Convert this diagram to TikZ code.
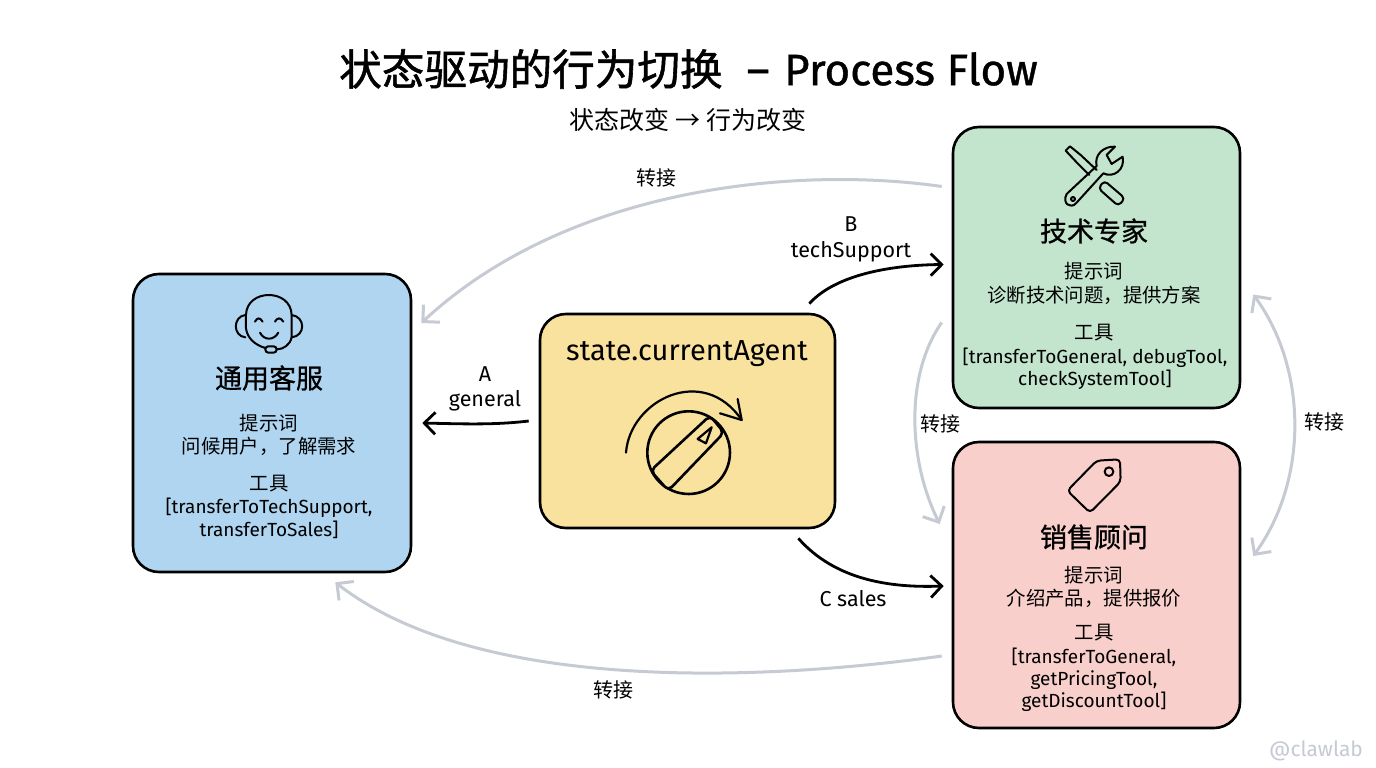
\documentclass[tikz,border=0pt]{standalone}
\usepackage{fontspec}
\setmainfont{Fira Sans}
\newfontfamily\cjk{Noto Sans CJK SC}
\newfontfamily\cjkb[FakeBold=0.9]{Noto Sans CJK SC}
\newfontfamily\cjkt[FakeBold=1.3]{Noto Sans CJK SC}
\newfontfamily\latt[FakeBold=0.9]{Fira Sans}
\usetikzlibrary{arrows.meta}
\definecolor{cblue}{HTML}{AFD5F0}
\definecolor{cyellow}{HTML}{F9E29E}
\definecolor{cgreen}{HTML}{C3E5CE}
\definecolor{cred}{HTML}{F9CFCB}
\definecolor{cgray}{HTML}{C6CAD2}
\newcommand{\fs}[1]{\fontsize{#1}{#1}\selectfont}
\tikzset{
  x=1pt,y=-1pt,
  card/.style={draw=black,line width=2.6pt,rounded corners=26pt,inner sep=0pt},
  head/.style={font=\cjkb\fs{27},inner sep=0pt},
  cn/.style={font=\cjk\fs{19.4},inner sep=0pt},
  en/.style={font=\fs{19},inner sep=0pt},
  lbl/.style={font=\fs{21.5},inner sep=0pt},
  cnl/.style={font=\cjk\fs{20},inner sep=0pt},
  blackarrow/.style={draw=black,line width=2.8pt,-{Straight Barb[length=11pt,width=22pt,line width=2.8pt]}},
  grayarrow/.style={draw=cgray,line width=3pt,-{Straight Barb[length=12pt,width=24pt,line width=3pt]}},
  grayboth/.style={draw=cgray,line width=3pt,{Straight Barb[length=12pt,width=24pt,line width=3pt]}-{Straight Barb[length=12pt,width=24pt,line width=3pt]}},
  icon/.style={draw=black,line width=2pt,line cap=round,line join=round},
}
\begin{document}
\begin{tikzpicture}
\useasboundingbox (0,0) rectangle (1376,768);
\fill[white] (0,0) rectangle (1376,768);

% title
\node[inner sep=0pt,anchor=west] (title) at (339,69) {{\cjkt\fs{42.6}状态驱动的行为切换}\hspace{24pt}{\latt\fs{44}–\hspace{3pt} Process Flow}};
\node[font=\cjk\fs{25},inner sep=0pt] (subtitle) at (688,120) {状态改变 → 行为改变};

% cards
\node[card,fill=cblue,minimum width=278pt,minimum height=298pt] (general) at (272,423) {};
\node[card,fill=cyellow,minimum width=295pt,minimum height=214pt] (state) at (687.5,421) {};
\node[card,fill=cgreen,minimum width=287pt,minimum height=281pt] (tech) at (1096.5,267.5) {};
\node[card,fill=cred,minimum width=287pt,minimum height=286pt] (sales) at (1096.5,585) {};

% general text
\node[head] (g1) at (269,378) {通用客服};
\node[cn] (g2) at (269,423) {提示词};
\node[cn] (g3) at (269,446) {问候用户，了解需求};
\node[cn] (g4) at (269,484) {工具};
\node[en] (g5) at (269,508) {[transferToTechSupport,};
\node[en] (g6) at (269,530) {transferToSales]};

% state text
\node[font=\fs{29},inner sep=0pt] (s1) at (687,354) {state.currentAgent};

% tech text
\node[head] (t1) at (1094,231) {技术专家};
\node[cn] (t2) at (1094,271) {提示词};
\node[cn] (t3) at (1094,295) {诊断技术问题，提供方案};
\node[cn] (t4) at (1094,333) {工具};
\node[en] (t5) at (1095,358) {[transferToGeneral, debugTool,};
\node[en] (t6) at (1095,380) {checkSystemTool]};

% sales text
\node[head] (r1) at (1094,537) {销售顾问};
\node[cn] (r2) at (1094,575) {提示词};
\node[cn] (r3) at (1094,598) {介绍产品，提供报价};
\node[cn] (r4) at (1094,633) {工具};
\node[en] (r5) at (1094,657) {[transferToGeneral,};
\node[en] (r6) at (1094,680) {getPricingTool,};
\node[en] (r7) at (1094,702) {getDiscountTool]};

% gray connectors
\draw[grayarrow] ([shift={(-10,-81)}]tech.west) .. controls (800,166) and (570,185) .. ([shift={(9,-100)}]general.east);
\draw[grayarrow] ([shift={(-10,71)}]sales.west) .. controls (770,680) and (480,695) .. ([shift={(-77,9)}]general.south east);
\draw[grayarrow] ([shift={(-10,55)}]tech.west) .. controls (905,375) and (908,460) .. ([shift={(-12,-61)}]sales.west);
\draw[grayboth] ([shift={(12,27)}]tech.east) .. controls (1308,370) and (1308,480) .. ([shift={(12,-29)}]sales.east);

% black connectors
\draw[blackarrow] ([shift={(-10,0)}]state.west) .. controls (495,425) and (465,424) .. ([shift={(10,0)}]general.east);
\draw[blackarrow] ([shift={(-27,-9)}]state.north east) .. controls (835,275) and (890,265) .. ([shift={(-8,-3)}]tech.west);
\draw[blackarrow] ([shift={(-38,9)}]state.south east) .. controls (835,580) and (890,588) .. ([shift={(-8,1)}]sales.west);

% connector labels
\node[lbl] (la) at (485,374) {A};
\node[lbl] (la2) at (485,401) {general};
\node[lbl] (lb) at (851,224) {B};
\node[lbl] (lb2) at (851,252) {techSupport};
\node[lbl] (lc) at (853,599) {C sales};
\node[cnl] (l1) at (656,178) {转接};
\node[cnl] (l2) at (613,690) {转接};
\node[cnl] (l3) at (940,424) {转接};
\node[cnl] (l4) at (1324,422) {转接};

% watermark
\node[font=\fs{21},text=cgray,inner sep=0pt] (wm) at (1316,751) {@clawlab};

% headset icon (zoom coordinates)
\begin{scope}[shift={(120,260)},x=0.3333pt,y=-0.3333pt,icon]
\draw (378,205) -- (378,165) .. controls (380,85) and (513,85) .. (515,165) -- (515,232) .. controls (510,255) and (490,268) .. (470,268);
\draw (378,205) .. controls (382,235) and (405,255) .. (436,264);
\draw (376,165) .. controls (338,170) and (338,228) .. (376,232);
\draw (515,165) .. controls (557,170) and (557,228) .. (515,232);
\draw[rounded corners=3pt] (436,259) rectangle (470,278);
\draw (405,185) .. controls (412,172) and (420,172) .. (428,185);
\draw (465,185) .. controls (472,172) and (482,172) .. (490,185);
\draw (420,218) .. controls (432,242) and (462,242) .. (475,218);
\end{scope}

% knob icon
\begin{scope}[shift={(530,300)},x=0.3333pt,y=-0.3333pt,icon,line width=2.6pt]
\draw (476,458) circle[radius=124];
\fill[cyellow,rounded corners=5pt] (362,512) -- (540,347) -- (582,398) -- (415,572) -- cycle;
\draw[rounded corners=5pt] (362,512) -- (540,347) -- (582,398) -- (415,572) -- cycle;
\draw[line width=2.2pt] (503,417) -- (545,382) -- (528,430) -- cycle;
\draw[line width=2.2pt] (288,458) .. controls (300,300) and (520,190) .. (635,360);
\draw[line width=2.2pt] (623,297) -- (635,360) -- (570,340);
\end{scope}

% tools icon
\begin{scope}[shift={(940,120)},x=0.3333pt,y=-0.3333pt,icon]
\draw (470,150) -- (422,105) -- (390,79) -- (377,92) -- (408,125) -- (448,165);
\draw[rounded corners=4pt] (475,205) -- (493,182) -- (555,235) -- (535,258) -- cycle;
\draw (380,222) -- (470,138) .. controls (462,105) and (490,78) .. (525,80) -- (500,105) -- (515,132) -- (548,110) .. controls (556,150) and (520,175) .. (490,160) -- (408,250) .. controls (392,268) and (365,250) .. (380,222);
\draw (399,237) circle[radius=6];
\end{scope}

% tag icon
\begin{scope}[shift={(940,440)},x=0.3333pt,y=-0.3333pt,icon]
\draw[rounded corners=4pt] (382,152) -- (470,62) -- (540,58) -- (542,125) -- (450,218) -- cycle;
\draw (507,95) circle[radius=13];
\end{scope}
\end{tikzpicture}
\end{document}
